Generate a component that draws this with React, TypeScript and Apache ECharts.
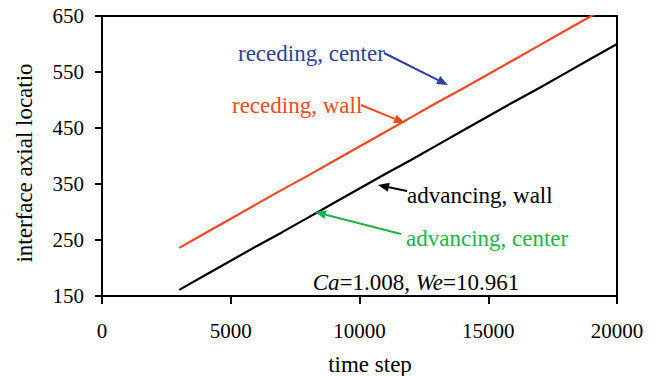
import React, { useEffect, useRef } from "react";
import * as echarts from "echarts";

const timeSteps = [3000, 4000, 5000, 6000, 7000, 8000, 9000, 10000, 11000, 12000, 13000, 14000, 15000, 16000, 17000, 18000, 19000, 20000];
const recedingWall = [236, 262, 288, 314, 340, 365, 391, 417, 443, 469, 495, 520, 546, 572, 598, 624, 650, 676];
const advancingWall = [161, 187, 213, 239, 264, 290, 316, 342, 368, 393, 419, 445, 471, 497, 522, 548, 574, 600];
const xTicks = [0, 5000, 10000, 15000, 20000];
const yTicks = [150, 250, 350, 450, 550, 650];

const FONT = "'Liberation Serif', 'Times New Roman', serif";

function arrow(x1: number, y1: number, x2: number, y2: number, color: string) {
  const dx = x2 - x1;
  const dy = y2 - y1;
  const len = Math.sqrt(dx * dx + dy * dy);
  const ux = dx / len;
  const uy = dy / len;
  const hl = 11;
  const hw = 4.5;
  const bx = x2 - ux * hl;
  const by = y2 - uy * hl;
  return [
    {
      type: "line",
      shape: { x1, y1, x2: bx, y2: by },
      style: { stroke: color, lineWidth: 2 },
      z: 100,
    },
    {
      type: "polygon",
      shape: {
        points: [
          [x2, y2],
          [bx - uy * hw, by + ux * hw],
          [bx + uy * hw, by - ux * hw],
        ],
      },
      style: { fill: color },
      z: 100,
    },
  ];
}

function label(text: string, x: number, y: number, color: string) {
  return {
    type: "text",
    x,
    y,
    style: { text, fill: color, font: `23px ${FONT}`, textAlign: "left", textVerticalAlign: "middle" },
    z: 100,
  };
}

export default function App() {
  const ref = useRef<HTMLDivElement>(null);
  useEffect(() => {
    if (!ref.current) return;
    const chart = echarts.init(ref.current, null, { renderer: "svg" });
    const blue = "#2e3f9e";
    const red = "#f04a23";
    const green = "#22b24c";
    chart.setOption({
      animation: false,
      backgroundColor: "#fff",
      grid: {
        left: 102,
        right: 48,
        top: 16,
        bottom: 80,
        show: true,
        borderColor: "#000",
        borderWidth: 2,
      },
      xAxis: {
        type: "value",
        min: 0,
        max: 20000,
        interval: 5000,
        axisLine: { show: true, lineStyle: { color: "#000", width: 2 } },
        axisTick: { show: true, inside: false, length: 8, lineStyle: { color: "#000", width: 2 } },
        axisLabel: {
          color: "#000",
          fontFamily: FONT,
          fontSize: 21,
          margin: 24,
          customValues: xTicks,
          formatter: (v: number) => String(v),
        },
        splitLine: { show: false },
      },
      yAxis: {
        type: "value",
        min: 150,
        max: 650,
        interval: 100,
        axisLine: { show: true, lineStyle: { color: "#000", width: 2 } },
        axisTick: { show: true, inside: false, length: 7, lineStyle: { color: "#000", width: 2 } },
        axisLabel: {
          color: "#000",
          fontFamily: FONT,
          fontSize: 21,
          margin: 18,
          customValues: yTicks,
          formatter: (v: number) => String(v),
        },
        splitLine: { show: false },
      },
      series: [
        {
          type: "line",
          data: timeSteps.map((t, i) => [t, recedingWall[i]]),
          showSymbol: false,
          lineStyle: { color: red, width: 2.2 },
          clip: true,
        },
        {
          type: "line",
          data: timeSteps.map((t, i) => [t, advancingWall[i]]),
          showSymbol: false,
          lineStyle: { color: "#000", width: 2.2 },
          clip: true,
        },
      ],
      graphic: [
        label("receding, center", 238, 53, blue),
        ...arrow(384, 53, 448, 85, blue),
        label("receding, wall", 232, 105, red),
        ...arrow(361, 105, 405, 123, red),
        label("advancing, wall", 407, 195, "#000"),
        ...arrow(407, 191, 378, 185, "#000"),
        label("advancing, center", 406, 238, green),
        ...arrow(401, 234, 315, 212, green),
        {
          type: "text",
          x: 416,
          y: 282,
          style: {
            text: "{i|Ca}=1.008, {i|We}=10.961",
            fill: "#000",
            font: `23px ${FONT}`,
            textAlign: "center",
            textVerticalAlign: "middle",
            rich: {
              i: { fontStyle: "italic", fontFamily: FONT, fontSize: 23, fill: "#000" },
            },
          },
          z: 100,
        },
        {
          type: "text",
          x: 24,
          y: 163,
          rotation: Math.PI / 2,
          style: {
            text: "interface axial locatio",
            fill: "#000",
            font: `23px ${FONT}`,
            textAlign: "center",
            textVerticalAlign: "middle",
          },
        },
        {
          type: "text",
          x: 370,
          y: 364,
          style: {
            text: "time step",
            fill: "#000",
            font: `23px ${FONT}`,
            textAlign: "center",
            textVerticalAlign: "middle",
          },
        },
      ],
    });
    return () => chart.dispose();
  }, []);
  return <div ref={ref} style={{ width: 665, height: 376, position: "absolute", left: 0, top: 0 }} />;
}
